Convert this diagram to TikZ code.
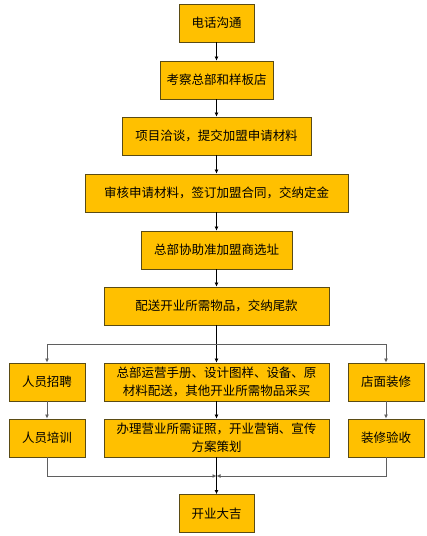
\documentclass[tikz,border=0pt]{standalone}
\usepackage{fontspec}
\setmainfont{Noto Sans CJK SC}
\usepackage{tikz}
\usetikzlibrary{positioning, shapes}
\usetikzlibrary{arrows.meta}
\definecolor{boxfill}{RGB}{255,192,0}
\definecolor{boxline}{RGB}{90,75,20}
\definecolor{linkgray}{RGB}{95,95,95}

\begin{document}
\begin{tikzpicture}[x=1pt,y=-1pt]
            \tikzset{stepbox/.style = {draw=boxline,fill=boxfill,line width=0.9pt,
                minimum height=38pt,inner sep=0pt,font=\fontsize{12.5}{18}\selectfont,align=center}}
            \tikzset{edge/.style = {-{Latex[length=4pt,width=4pt]},line width=0.7pt}}
            \tikzset{grayedge/.style = {edge,draw=linkgray,line width=0.9pt}}
            \useasboundingbox (0,0) rectangle (427,536);

            % main chain
            \node[stepbox,minimum width=75pt] (call) at (216.5, 23) {电话沟通};
            \node[stepbox,minimum width=113pt] (visit) at (216.5, 80) {考察总部和样板店};
            \node[stepbox,minimum width=189pt] (talk) at (216.5, 136) {项目洽谈，提交加盟申请材料};
            \node[stepbox,minimum width=263pt] (sign) at (216.5, 193) {审核申请材料，签订加盟合同，交纳定金};
            \node[stepbox,minimum width=151pt] (site) at (216.5, 250) {总部协助准加盟商选址};
            \node[stepbox,minimum width=225pt] (ship) at (216.5, 306) {配送开业所需物品，交纳尾款};

            \draw[edge] (call) -- (visit);
            \draw[edge] (visit) -- (talk);
            \draw[edge] (talk) -- (sign);
            \draw[edge] (sign) -- (site);
            \draw[edge] (site) -- (ship);

            % three branches
            \node[stepbox,minimum width=76pt] (hire) at (47, 382) {人员招聘};
            \node[stepbox,minimum width=225pt] (supply) at (216.5, 382) {总部运营手册、设计图样、设备、原\\材料配送，其他开业所需物品采买};
            \node[stepbox,minimum width=76pt] (decor) at (386, 382) {店面装修};
            \node[stepbox,minimum width=76pt] (train) at (47, 438) {人员培训};
            \node[stepbox,minimum width=225pt] (license) at (216.5, 438) {办理营业所需证照，开业营销、宣传\\方案策划};
            \node[stepbox,minimum width=76pt] (check) at (386, 438) {装修验收};
            \node[stepbox,minimum width=75pt] (open) at (216.5, 513.5) {开业大吉};

            \coordinate (split) at (216.5, 344);
            \coordinate (merge) at (216.5, 476);

            \draw[edge] (ship) -- (supply);
            \draw[grayedge] (split) -| (hire);
            \draw[grayedge] (split) -| (decor);
            \draw[grayedge] (hire) -- (train);
            \draw[edge] (supply) -- (license);
            \draw[grayedge] (decor) -- (check);

            % merge into opening
            \draw[grayedge] (train) |- (merge);
            \draw[grayedge] (check) |- (merge);
            \draw[edge] (license) -- (open);
        \end{tikzpicture}
\end{document}
